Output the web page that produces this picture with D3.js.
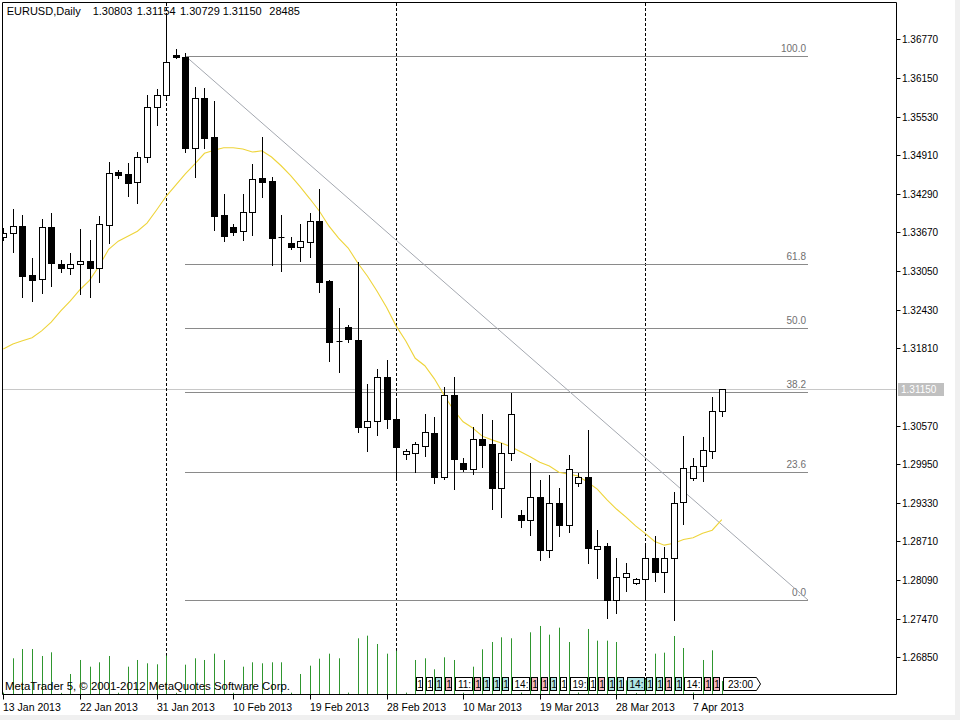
<!DOCTYPE html>
<html><head><meta charset="utf-8">
<script src="https://cdn.jsdelivr.net/npm/d3@7"></script>
<style>body{margin:0;background:#f0f0f0}svg{display:block}text{font-family:"Liberation Sans",Arial,sans-serif}</style>
</head><body><svg id="c" width="960" height="720"></svg>
<script>
// ---------- DATA ----------
const dates = ["2013-01-13","2013-01-14","2013-01-15","2013-01-16","2013-01-17","2013-01-18",
"2013-01-20","2013-01-21","2013-01-22","2013-01-23","2013-01-24","2013-01-25",
"2013-01-27","2013-01-28","2013-01-29","2013-01-30","2013-01-31","2013-02-01",
"2013-02-03","2013-02-04","2013-02-05","2013-02-06","2013-02-07","2013-02-08",
"2013-02-10","2013-02-11","2013-02-12","2013-02-13","2013-02-14","2013-02-15",
"2013-02-17","2013-02-18","2013-02-19","2013-02-20","2013-02-21","2013-02-22",
"2013-02-24","2013-02-25","2013-02-26","2013-02-27","2013-02-28","2013-03-01",
"2013-03-03","2013-03-04","2013-03-05","2013-03-06","2013-03-07","2013-03-08",
"2013-03-10","2013-03-11","2013-03-12","2013-03-13","2013-03-14","2013-03-15",
"2013-03-17","2013-03-18","2013-03-19","2013-03-20","2013-03-21","2013-03-22",
"2013-03-24","2013-03-25","2013-03-26","2013-03-27","2013-03-28","2013-03-29",
"2013-03-31","2013-04-01","2013-04-02","2013-04-03","2013-04-04","2013-04-05",
"2013-04-07","2013-04-08","2013-04-09","2013-04-10"];

const open  = [1.3359,1.3366,1.3377,1.3298,1.3292,1.3376,1.3316,1.3310,1.3316,1.3321,1.3310,1.3379,
1.3464,1.3461,1.3448,1.3488,1.3568,1.3588,1.3652,1.3649,1.3503,1.3583,1.3520,1.3395,
1.3376,1.3369,1.3400,1.3454,1.3450,1.3359,1.3350,1.3344,1.3352,1.3385,1.3289,1.3193,
1.3215,1.3194,1.3055,1.3064,1.3135,1.3067,1.3011,1.3013,1.3024,1.3045,1.2974,1.3106,
1.2997,1.2987,1.3035,1.3028,1.2957,1.3013,1.2913,1.2905,1.2942,1.2857,1.2933,1.2897,
1.2965,1.2974,1.2859,1.2864,1.2777,1.2814,1.2804,1.2811,1.2844,1.2822,1.2844,1.2934,
1.2973,1.2992,1.3016,1.30803];
const high  = [1.3374,1.3405,1.3395,1.3326,1.3389,1.3398,1.3323,1.3334,1.3372,1.3355,1.3393,1.3480,
1.3467,1.3478,1.3496,1.3588,1.3597,1.3716,1.3661,1.3655,1.3600,1.3599,1.3578,1.3429,
1.3381,1.3429,1.3477,1.3520,1.3456,1.3395,1.3359,1.3381,1.3398,1.3437,1.3290,1.3246,
1.3218,1.3320,1.3124,1.3148,1.3162,1.3101,1.3019,1.3031,1.3075,1.3071,1.3119,1.3135,
1.3005,1.3055,1.3075,1.3066,1.3029,1.3109,1.2921,1.2997,1.2969,1.2977,1.2957,1.3010,
1.2981,1.3050,1.2889,1.2868,1.2844,1.2836,1.2812,1.2868,1.2879,1.2862,1.2950,1.3040,
1.3005,1.3039,1.3103,1.31154];
const low   = [1.3355,1.3336,1.3263,1.3257,1.3269,1.3281,1.3303,1.3300,1.3268,1.3263,1.3287,1.3350,
1.3454,1.3425,1.3414,1.3480,1.3540,1.3580,1.3647,1.3496,1.3456,1.3503,1.3371,1.3353,
1.3363,1.3355,1.3363,1.3424,1.3315,1.3305,1.3340,1.3321,1.3328,1.3271,1.3161,1.3143,
1.3191,1.3047,1.3016,1.3042,1.3053,1.2969,1.3003,1.2982,1.3008,1.2965,1.2971,1.2955,
1.2984,1.2979,1.2990,1.2923,1.2910,1.3002,1.2894,1.2881,1.2841,1.2846,1.2879,1.2886,
1.2960,1.2836,1.2812,1.2748,1.2756,1.2791,1.2802,1.2777,1.2807,1.2790,1.2745,1.2899,
1.2969,1.2968,1.3005,1.30729];
const close = [1.3366,1.3377,1.3297,1.3290,1.3376,1.3318,1.3310,1.3316,1.3321,1.3310,1.3381,1.3462,
1.3459,1.3446,1.3488,1.3568,1.3588,1.3641,1.3649,1.3503,1.3583,1.3518,1.3393,1.3361,
1.3367,1.3400,1.3453,1.3448,1.3358,1.3359,1.3344,1.3353,1.3385,1.3287,1.3191,1.3193,
1.3196,1.3055,1.3064,1.3135,1.3067,1.3023,1.3016,1.3028,1.3047,1.2974,1.3106,1.3003,
1.2987,1.3035,1.3026,1.2957,1.3013,1.3075,1.2905,1.2942,1.2857,1.2933,1.2897,1.2987,
1.2974,1.2861,1.2864,1.2777,1.2814,1.2820,1.2811,1.2844,1.2822,1.2844,1.2933,1.2989,
1.2992,1.3018,1.3080,1.31150];
const maValues = [1.3180,1.3188,1.3193,1.3198,1.3209,1.3223,1.3241,1.3257,1.3275,1.3290,1.3313,1.3340,
1.3353,1.3361,1.3369,1.3382,1.3403,1.3425,1.3443,1.3461,1.3477,1.3494,1.3499,1.3503,
1.3503,1.3501,1.3496,1.3498,1.3488,1.3474,1.3458,1.3440,1.3421,1.3401,1.3377,1.3358,
1.3342,1.3318,1.3297,1.3273,1.3247,1.3217,1.3193,1.3165,1.3153,1.3132,1.3106,1.3082,
1.3063,1.3053,1.3040,1.3034,1.3029,1.3023,1.3015,1.3007,1.2998,1.2992,1.2982,1.2979,
1.2976,1.2966,1.2955,1.2938,1.2923,1.2910,1.2896,1.2884,1.2871,1.2865,1.2868,1.2874,
1.2877,1.2884,1.2889,1.2906];
const volume = [3000,78500,99000,99000,83600,91700,2500,44000,74800,60100,69700,83600,
2800,60100,74800,67500,65300,84300,2600,64500,78500,74800,88700,74800,
2700,60100,69700,67500,69700,69700,2900,44000,62300,77700,88700,78500,
3100,122500,128300,110000,88700,95300,3000,74800,78500,54300,80700,74800,
2800,60100,98300,114400,124700,122500,3200,135700,149600,130500,145900,114400,
3300,143000,117300,117300,114400,30000,2400,32000,88700,90900,127600,101200,
3400,74800,96100,28485];

const priceTicks = [1.36770,1.36150,1.35530,1.34910,1.34290,1.33670,1.33050,1.32430,1.31810,
1.30570,1.29950,1.29330,1.28710,1.28090,1.27470,1.26850];
const timeTickIdx = [0,8,16,24,32,40,48,56,64,72];
const timeTickLabels = ["13 Jan 2013","22 Jan 2013","31 Jan 2013","10 Feb 2013","19 Feb 2013",
"28 Feb 2013","10 Mar 2013","19 Mar 2013","28 Mar 2013","7 Apr 2013"];
const separatorIdx = [17,41,67];
const fibLevels = [100.0,61.8,50.0,38.2,23.6,0.0];
const fibHigh = 1.36507, fibLow = 1.27770, fibStartIdx = 19, fibEndIdx = 84;
const bid = 1.31150;
const eventIdx   = [43,44,45,46,47,49,50,51,52,53,55,56,57,58,59,61,62,63,64,65,67,68,69,70,71,73,74,75];
const eventText  = ["1","1","1","1","11:","1","1","1","1","14:","1","1","1","1","19:","1","1","1","1","14:","1","1","1","1","14:","1","1","23:00"];
const eventKind  = ["w","w","c","p","w","p","c","c","c","w","p","p","c","w","w","w","p","c","c","c","c","c","p","c","w","p","p","w"];
const headerParts = ["EURUSD,Daily","1.30803","1.31154","1.30729","1.31150","28485"];

// ---------- DRAW ----------
const svg = d3.select("#c");
svg.append("rect").attr("width",955).attr("height",715).attr("fill","#fff");

const x = d3.scaleLinear().domain([0,75]).range([3.3,721.8]);
const y = d3.scaleLinear().domain([1.26850,1.36770]).range([657.3,39.3]);
const yv = d3.scaleLinear().domain([0,150000]).range([694,625.8]);
const cxr = i => Math.round(x(i));
const yr = v => Math.round(y(v)) + 0.5;

svg.append("clipPath").attr("id","plot").append("rect").attr("x",3).attr("y",3).attr("width",893).attr("height",691);
const g = svg.append("g").attr("clip-path","url(#plot)");

// bid line
g.append("line").attr("x1",3).attr("x2",896).attr("y1",yr(bid)).attr("y2",yr(bid)).attr("stroke","#c8c8c8");

// separators
g.selectAll(".sep").data(separatorIdx).join("line")
 .attr("x1",d=>cxr(d)+0.5).attr("x2",d=>cxr(d)+0.5).attr("y1",3).attr("y2",694)
 .attr("stroke","#000").attr("stroke-dasharray","3,2");

// fibonacci
const fx1 = cxr(fibStartIdx), fx2 = cxr(fibEndIdx);
const fibPrice = l => fibLow + (fibHigh - fibLow) * l / 100;
g.selectAll(".fib").data(fibLevels).join("line")
 .attr("x1",fx1).attr("x2",fx2).attr("y1",d=>yr(fibPrice(d))).attr("y2",d=>yr(fibPrice(d)))
 .attr("stroke","#8a8a8a");
g.selectAll(".fibt").data(fibLevels).join("text")
 .attr("x",fx2-2).attr("y",d=>yr(fibPrice(d))-4.5).attr("text-anchor","end")
 .attr("font-size",10).attr("fill","#707070").text(d=>d.toFixed(1));
g.append("line").attr("x1",fx1).attr("y1",y(fibHigh)).attr("x2",fx2).attr("y2",y(fibLow))
 .attr("stroke","#a4a8b0");

// volumes
g.selectAll(".vol").data(volume).join("line")
 .attr("x1",(d,i)=>cxr(i)+0.5).attr("x2",(d,i)=>cxr(i)+0.5)
 .attr("y1",694).attr("y2",d=>yv(d)).attr("stroke","#2f962f");

// moving average
g.append("path").datum(maValues)
 .attr("d",d3.line().x((d,i)=>x(i)).y(d=>y(d)).curve(d3.curveLinear))
 .attr("fill","none").attr("stroke","#eed43a").attr("stroke-width",1.1);

// candles
const cg = g.append("g");
dates.forEach((dt,i)=>{
  const cx = cxr(i);
  const o = open[i], c = close[i], h = high[i], l = low[i];
  cg.append("line").attr("x1",cx+0.5).attr("x2",cx+0.5).attr("y1",Math.round(y(h))).attr("y2",Math.round(y(l))+1).attr("stroke","#000");
  const yt = Math.round(y(Math.max(o,c))), yb = Math.round(y(Math.min(o,c)));
  if (yb - yt < 1) {
    cg.append("line").attr("x1",cx-2.5).attr("x2",cx+3.5).attr("y1",yt+0.5).attr("y2",yt+0.5).attr("stroke","#000");
  } else {
    cg.append("rect").attr("x",cx-2.5).attr("y",yt+0.5).attr("width",6).attr("height",yb-yt)
      .attr("fill", c>=o ? "#fff" : "#000").attr("stroke","#000");
  }
});

// events
const evFill = {w:"#ffffff",c:"#b0e4e4",p:"#f2b8c2"};
const eg = svg.append("g");
eventIdx.forEach((idx,k)=>{
  const t = eventText[k];
  const x0 = cxr(idx)+1.5, w = t.length===1 ? 6 : (t.length===3 ? 17 : 33);
  if (t.length>3) {
    eg.append("path").attr("d",`M${x0},677.5 H${x0+w} L${x0+w+4},684 L${x0+w},690.5 H${x0} Z`)
      .attr("fill",evFill[eventKind[k]]).attr("stroke","#000");
  } else {
    eg.append("rect").attr("x",x0).attr("y",677.5).attr("width",w).attr("height",13)
      .attr("fill",evFill[eventKind[k]]).attr("stroke","#000");
  }
  eg.append("text").attr("x",x0+w/2+0.5).attr("y",688).attr("text-anchor","middle")
    .attr("font-size",10).attr("fill","#000").text(t);
});

// copyright
svg.append("text").attr("x",5).attr("y",690).attr("font-size",11).attr("fill","#000")
 .attr("textLength",285).attr("lengthAdjust","spacingAndGlyphs")
 .text("MetaTrader 5, © 2001-2012 MetaQuotes Software Corp.");

// frame
const fr = svg.append("g").attr("stroke","#000").attr("fill","none");
fr.append("path").attr("d","M2.5,2.5 H896.5 V694.5 H2.5 Z");

// price axis
const ax = svg.append("g");
ax.selectAll("line").data(priceTicks).join("line")
 .attr("x1",896.5).attr("x2",900.5).attr("y1",d=>yr(d)).attr("y2",d=>yr(d)).attr("stroke","#000");
ax.selectAll("text").data(priceTicks).join("text")
 .attr("x",902).attr("y",d=>yr(d)+3.5).attr("font-size",10).attr("fill","#000").text(d=>d.toFixed(5));
// bid label
svg.append("rect").attr("x",898).attr("y",yr(bid)-6.5).attr("width",46).attr("height",13).attr("fill","#c0c0c0");
svg.append("text").attr("x",901).attr("y",yr(bid)+3.5).attr("font-size",10).attr("fill","#fff").text(bid.toFixed(5));

// time axis
const tx = svg.append("g");
tx.selectAll("line").data(timeTickIdx).join("line")
 .attr("x1",d=>cxr(d)+0.5).attr("x2",d=>cxr(d)+0.5).attr("y1",694.5).attr("y2",699.5).attr("stroke","#000");
tx.selectAll("text").data(timeTickIdx).join("text")
 .attr("x",d=>cxr(d)).attr("y",711).attr("font-size",10.5).attr("fill","#000")
 .text((d,k)=>timeTickLabels[k]);

// header
const hx = [6.7,92.7,136.7,180,222.7,269.3];
svg.selectAll(".hdr").data(headerParts).join("text")
 .attr("x",(d,i)=>hx[i]).attr("y",15).attr("font-size",11).attr("fill","#000").text(d=>d);
</script></body></html>
